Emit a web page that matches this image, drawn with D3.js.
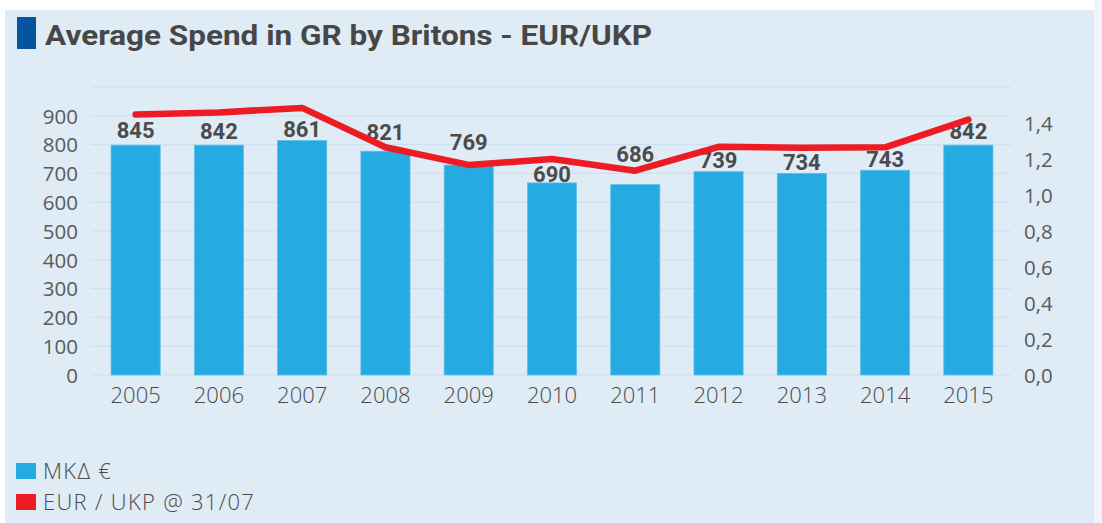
<!DOCTYPE html>
<html>
<head>
<meta charset="utf-8">
<script src="https://cdn.jsdelivr.net/npm/d3@7"></script>
<style>
  html, body { margin: 0; padding: 0; background: #fff; }
  svg { display: block; }
</style>
</head>
<body>
<svg id="chart"></svg>
<script>
// data
const years = ["2005","2006","2007","2008","2009","2010","2011","2012","2013","2014","2015"];
const spend = [798, 798, 814, 777, 729, 667, 661, 706, 700, 711, 798];       // bar heights as drawn
const spendLabels = [845, 842, 861, 821, 769, 690, 686, 739, 734, 743, 842]; // printed values
const eurUkp = [1.447, 1.459, 1.484, 1.265, 1.167, 1.20, 1.135, 1.268, 1.262, 1.265, 1.419];
const leftTicks = [0, 100, 200, 300, 400, 500, 600, 700, 800, 900];
const rightTicks = [0, 0.2, 0.4, 0.6, 0.8, 1.0, 1.2, 1.4];

// some labels were nudged in the original to dodge the line
const labelShift = { "2007": 4, "2008": -5, "2009": -10, "2011": -21 };

const width = 1102, height = 523;
const svg = d3.select("#chart").attr("width", width).attr("height", height);

// panel
svg.append("rect").attr("x", 1094).attr("y", 0).attr("width", 8).attr("height", height).attr("fill", "#eff5fa");
svg.append("rect").attr("x", 5).attr("y", 10).attr("width", 1089).attr("height", 513).attr("fill", "#dfebf5");

// title
svg.append("rect").attr("x", 17).attr("y", 17).attr("width", 19).attr("height", 32).attr("fill", "#0454a0");
svg.append("text")
  .attr("x", 45).attr("y", 45)
  .attr("textLength", 607).attr("lengthAdjust", "spacingAndGlyphs")
  .style("font-family", "Roboto, sans-serif").style("font-weight", 700).style("font-size", "27px")
  .attr("fill", "#474747")
  .text("Average Spend in GR by Britons - EUR/UKP");

const x = d3.scaleBand().domain(years).range([94, 1010]).paddingInner(0.41).paddingOuter(0.205);
const yL = d3.scaleLinear().domain([0, 1000]).range([375, 87]);
const yR = d3.scaleLinear().domain([0, 1.6]).range([375, 87]);

// gridlines
svg.append("g")
  .selectAll("line")
  .data(d3.range(0, 1001, 100))
  .enter()
  .append("line")
  .attr("x1", 91).attr("x2", 1011)
  .attr("y1", d => yL(d)).attr("y2", d => yL(d))
  .attr("stroke", "#cadff3").attr("stroke-width", 1);

// left axis
const axL = svg.append("g")
  .attr("transform", "translate(80,0)")
  .call(d3.axisLeft(yL).tickValues(leftTicks).tickSize(0).tickPadding(2));
axL.select(".domain").remove();
axL.selectAll("text")
  .style("font-family", "'Open Sans', sans-serif").style("font-size", "20.5px")
  .attr("fill", "#5a5a5a").attr("dy", "0.36em");

// right axis
const axR = svg.append("g")
  .attr("transform", "translate(1022,0)")
  .call(d3.axisRight(yR).tickValues(rightTicks).tickSize(0).tickPadding(2)
    .tickFormat(d => d3.format(".1f")(d).replace(".", ",")));
axR.select(".domain").remove();
axR.selectAll("text")
  .style("font-family", "'Open Sans', sans-serif").style("font-size", "20.5px")
  .attr("fill", "#5a5a5a").attr("dy", "0.36em");

// bottom axis
const axB = svg.append("g")
  .attr("transform", "translate(0,375)")
  .call(d3.axisBottom(x).tickSize(0).tickPadding(12));
axB.select(".domain").remove();
axB.selectAll("text")
  .style("font-family", "'Open Sans', sans-serif").style("font-size", "22px").style("font-weight", 300)
  .attr("fill", "#4a4a4a");

// bars
svg.append("g")
  .selectAll("rect")
  .data(years)
  .enter()
  .append("rect")
  .attr("x", d => x(d))
  .attr("width", x.bandwidth())
  .attr("y", (d, i) => yL(spend[i]))
  .attr("height", (d, i) => yL(0) - yL(spend[i]))
  .attr("fill", "#25aae1")
  .attr("stroke", "#5ec0ea").attr("stroke-width", 0.8);

// bar labels
svg.append("g")
  .selectAll("text")
  .data(years)
  .enter()
  .append("text")
  .attr("x", d => x(d) + x.bandwidth() / 2)
  .attr("y", (d, i) => yL(spendLabels[i]) + 6 + (labelShift[d] || 0))
  .attr("text-anchor", "middle")
  .style("font-family", "Roboto, sans-serif").style("font-weight", 700).style("font-size", "22px")
  .attr("fill", "#4b4b4b")
  .text((d, i) => spendLabels[i]);

// exchange rate line
const line = d3.line()
  .x((d, i) => x(years[i]) + x.bandwidth() / 2)
  .y(d => yR(d));

svg.append("path")
  .datum(eurUkp)
  .attr("d", line)
  .attr("fill", "none")
  .attr("stroke", "#ed1c24")
  .attr("stroke-width", 6.5)
  .attr("stroke-linejoin", "round")
  .attr("stroke-linecap", "round");

// legend
const legend = [
  { label: "MKΔ €", color: "#25aae1" },
  { label: "EUR / UKP @ 31/07", color: "#ed1c24" }
];
const lg = svg.append("g")
  .selectAll("g")
  .data(legend)
  .enter()
  .append("g")
  .attr("transform", (d, i) => `translate(16,${463 + i * 31})`);
lg.append("rect").attr("width", 20).attr("height", 16).attr("fill", d => d.color);
lg.append("text")
  .attr("x", 27).attr("y", 16)
  .style("font-family", "'Open Sans', sans-serif").style("font-size", "22px").style("font-weight", 300)
  .style("letter-spacing", "1.3px")
  .attr("fill", "#4a4a4a")
  .text(d => d.label);
</script>
</body>
</html>
